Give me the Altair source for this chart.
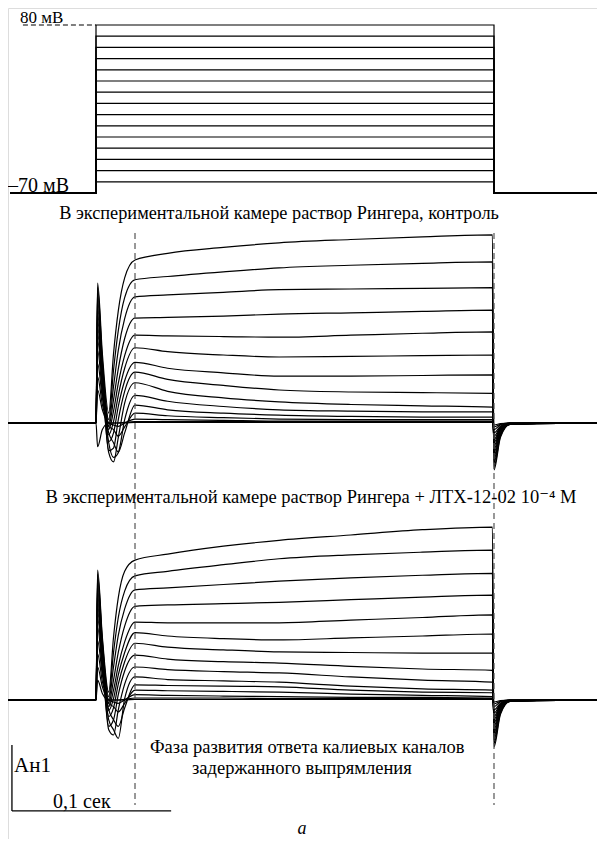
import altair as alt
import pandas as pd

# ---------------- data ----------------
# common time grid of the current records, ms (0 = start of the voltage step)
t_grid = [-56, 0, 1, 4, 8, 11, 14, 18, 24.5, 45, 80, 115, 160, 205, 249, 250, 254, 260, 316]

# voltage protocol
hold_mV = -70
step_mV = [80, 70, 60, 50, 40, 30, 20, 10, 0, -10, -20, -30, -40, -50, -60]
pulse_ms = [0, 250]
record_ms = [-54, 316]

# currents, nA (one row per voltage step, values at t_grid)
control_nA = [
    [0, 0, 2.12, 1.05, 0.15, 1.05, 1.70, 2.20, 2.47, 2.57, 2.66, 2.73, 2.78, 2.82, 2.85, -0.71, -0.22, -0.02, 0],
    [0, 0, 2.05, 0.95, 0.05, 0.80, 1.40, 1.90, 2.17, 2.22, 2.29, 2.35, 2.39, 2.42, 2.44, -0.66, -0.20, -0.02, 0],
    [0, 0, 1.95, 0.90, 0.00, 0.55, 1.10, 1.58, 1.91, 1.94, 1.98, 2.02, 2.03, 2.04, 2.05, -0.60, -0.18, -0.02, 0],
    [0, 0, 1.85, 0.85, -0.05, 0.35, 0.82, 1.28, 1.59, 1.60, 1.62, 1.65, 1.67, 1.69, 1.71, -0.55, -0.16, -0.02, 0],
    [0, 0, 1.75, 0.80, -0.10, 0.18, 0.60, 1.02, 1.33, 1.32, 1.31, 1.30, 1.33, 1.36, 1.38, -0.50, -0.14, -0.01, 0],
    [0, 0, 1.65, 0.75, -0.18, 0.02, 0.42, 0.83, 1.14, 1.08, 1.03, 1.00, 1.01, 1.02, 1.03, -0.45, -0.12, -0.01, 0],
    [0, 0, 1.55, 0.70, -0.28, -0.15, 0.25, 0.64, 0.92, 0.83, 0.76, 0.71, 0.71, 0.72, 0.73, -0.40, -0.10, -0.01, 0],
    [0, 0, 1.45, 0.65, -0.42, -0.38, 0.05, 0.48, 0.77, 0.66, 0.57, 0.50, 0.47, 0.46, 0.45, -0.35, -0.09, -0.01, 0],
    [0, 0, 1.35, 0.60, -0.45, -0.59, -0.22, 0.30, 0.61, 0.48, 0.38, 0.32, 0.28, 0.26, 0.24, -0.30, -0.08, -0.01, 0],
    [0, 0, 1.25, 0.55, -0.30, -0.52, -0.45, 0.05, 0.42, 0.33, 0.25, 0.20, 0.18, 0.17, 0.17, -0.25, -0.07, -0.01, 0],
    [0, 0, 1.10, 0.45, -0.15, -0.30, -0.44, -0.15, 0.27, 0.20, 0.15, 0.12, 0.10, 0.09, 0.09, -0.20, -0.06, 0, 0],
    [0, 0, 0.90, 0.38, -0.05, -0.10, -0.20, -0.06, 0.15, 0.11, 0.08, 0.06, 0.05, 0.05, 0.05, -0.15, -0.05, 0, 0],
    [0, 0, 0.70, 0.28, 0, -0.03, -0.05, 0, 0.06, 0.05, 0.04, 0.03, 0.03, 0.03, 0.03, -0.10, -0.03, 0, 0],
    [0, 0, 0.50, 0.20, 0, 0, 0, 0.01, 0.02, 0.02, 0.02, 0.02, 0.02, 0.02, 0.02, -0.06, -0.02, 0, 0],
    [0, 0, -0.36, -0.10, 0, 0, 0, 0, 0.01, 0.01, 0.01, 0.01, 0.01, 0.01, 0.01, -0.03, -0.01, 0, 0],
]

ltx_nA = [
    [0, 0, 1.97, 0.95, 0.12, 0.95, 1.55, 1.95, 2.12, 2.21, 2.33, 2.42, 2.50, 2.58, 2.62, -0.71, -0.22, -0.02, 0],
    [0, 0, 1.90, 0.90, 0.05, 0.72, 1.25, 1.65, 1.88, 1.95, 2.05, 2.14, 2.20, 2.24, 2.27, -0.66, -0.20, -0.02, 0],
    [0, 0, 1.82, 0.85, 0.00, 0.50, 0.98, 1.38, 1.67, 1.70, 1.75, 1.80, 1.85, 1.89, 1.92, -0.60, -0.18, -0.02, 0],
    [0, 0, 1.74, 0.80, -0.05, 0.30, 0.72, 1.12, 1.42, 1.44, 1.46, 1.48, 1.52, 1.56, 1.59, -0.55, -0.16, -0.02, 0],
    [0, 0, 1.66, 0.75, -0.10, 0.15, 0.52, 0.88, 1.18, 1.17, 1.17, 1.17, 1.21, 1.25, 1.29, -0.50, -0.14, -0.01, 0],
    [0, 0, 1.58, 0.70, -0.16, 0.02, 0.38, 0.72, 1.02, 0.97, 0.93, 0.91, 0.94, 0.97, 1.00, -0.45, -0.12, -0.01, 0],
    [0, 0, 1.50, 0.66, -0.25, -0.12, 0.24, 0.58, 0.86, 0.80, 0.76, 0.73, 0.72, 0.71, 0.71, -0.40, -0.10, -0.01, 0],
    [0, 0, 1.42, 0.62, -0.40, -0.30, 0.08, 0.44, 0.68, 0.62, 0.58, 0.56, 0.51, 0.47, 0.45, -0.35, -0.09, -0.01, 0],
    [0, 0, 1.34, 0.58, -0.45, -0.53, -0.15, 0.24, 0.50, 0.46, 0.43, 0.41, 0.35, 0.30, 0.27, -0.30, -0.08, -0.01, 0],
    [0, 0, 1.24, 0.52, -0.30, -0.45, -0.58, 0.02, 0.35, 0.31, 0.29, 0.27, 0.21, 0.17, 0.15, -0.25, -0.07, -0.01, 0],
    [0, 0, 1.10, 0.45, -0.15, -0.30, -0.40, -0.12, 0.23, 0.22, 0.21, 0.20, 0.15, 0.12, 0.11, -0.20, -0.06, 0, 0],
    [0, 0, 0.90, 0.38, -0.05, -0.10, -0.18, -0.05, 0.15, 0.14, 0.13, 0.12, 0.09, 0.07, 0.05, -0.15, -0.05, 0, 0],
    [0, 0, 0.70, 0.28, 0, -0.03, -0.05, 0, 0.08, 0.07, 0.06, 0.05, 0.04, 0.04, 0.03, -0.10, -0.03, 0, 0],
    [0, 0, 0.50, 0.20, 0, 0, 0, 0.01, 0.03, 0.03, 0.03, 0.02, 0.02, 0.02, 0.02, -0.06, -0.02, 0, 0],
    [0, 0, 0.30, 0.10, 0, 0, 0, 0, 0.01, 0.01, 0.01, 0.01, 0.01, 0.01, 0.01, -0.03, -0.01, 0, 0],
]

phase_ms = [24.5, 250]          # dashed markers of the delayed-rectifier phase
scale_bar_ms = 100
scale_bar_nA = 1
scale_bar_origin = [-52.8, -1.68]  # (ms, nA in the lower record)

labels_text = {
    "v_top": "80 мВ",
    "v_bottom": "\u201370 мВ",
    "title_a": "В экспериментальной камере раствор Рингера, контроль",
    "title_b": "В экспериментальной камере раствор Рингера + ЛТХ-12-02 10\u207b\u2074 М",
    "phase_1": "Фаза развития ответа калиевых каналов",
    "phase_2": "задержанного выпрямления",
    "bar_y": "Ан1",
    "bar_x": "0,1 сек",
    "panel": "a",
}

# ---------------- layout (pixels of the plot area) ----------------
W, H = 589, 831
PX_PER_MS = 1.592
ONSET_PX = 88
x_dom = [(0 - ONSET_PX) / PX_PER_MS, (W - ONSET_PX) / PX_PER_MS]


def ydom(zero_px, value_at_zero, px_per_unit):
    top = value_at_zero + zero_px / px_per_unit
    bottom = value_at_zero - (H - zero_px) / px_per_unit
    return [bottom, top]


X = alt.Scale(domain=x_dom, nice=False, zero=False)
YV = alt.Scale(domain=ydom(185, hold_mV, 1.12), nice=False, zero=False)
YA = alt.Scale(domain=ydom(415, 0, 66), nice=False, zero=False)
YB = alt.Scale(domain=ydom(692, 0, 66), nice=False, zero=False)

FONT = "Liberation Serif, Times New Roman, DejaVu Serif, serif"

# ---------------- tables ----------------
rows = []
for k, v in enumerate(step_mV):
    ts = [record_ms[0], pulse_ms[0], pulse_ms[0], pulse_ms[1], pulse_ms[1], record_ms[1]]
    vs = [hold_mV, hold_mV, v, v, hold_mV, hold_mV]
    for i, (t, val) in enumerate(zip(ts, vs)):
        rows.append({"trace": k, "i": i, "t": t, "v": val})
volt_df = pd.DataFrame(rows)


def trace_df(table):
    r = []
    for k, vals in enumerate(table):
        for i, (t, val) in enumerate(zip(t_grid, vals)):
            r.append({"trace": k, "i": i, "t": t, "I": val})
    return pd.DataFrame(r)


a_df = trace_df(control_nA)
b_df = trace_df(ltx_nA)

# ---------------- voltage panel ----------------
volt_lines = alt.Chart(volt_df).mark_line(color="black", strokeWidth=1.2, clip=True).encode(
    x=alt.X("t:Q", scale=X, axis=None),
    y=alt.Y("v:Q", scale=YV, axis=None),
    detail="trace:N",
    order="i:Q",
)
volt_dash = alt.Chart(pd.DataFrame({"t0": [-45.9], "t1": [pulse_ms[0]], "v": [max(step_mV)]})).mark_rule(
    color="black", strokeWidth=1.2, strokeDash=[5, 3]
).encode(
    x=alt.X("t0:Q", scale=X, axis=None),
    x2="t1:Q",
    y=alt.Y("v:Q", scale=YV, axis=None),
)
volt = alt.layer(volt_lines, volt_dash)

# ---------------- current panels ----------------
a_lines = alt.Chart(a_df).mark_line(
    color="black", strokeWidth=1.2, clip=True, interpolate="monotone"
).encode(
    x=alt.X("t:Q", scale=X, axis=None),
    y=alt.Y("I:Q", scale=YA, axis=None),
    detail="trace:N",
    order="i:Q",
)

b_lines = alt.Chart(b_df).mark_line(
    color="black", strokeWidth=1.2, clip=True, interpolate="monotone"
).encode(
    x=alt.X("t:Q", scale=X, axis=None),
    y=alt.Y("I:Q", scale=YB, axis=None),
    detail="trace:N",
    order="i:Q",
)
phase_rules = alt.Chart(pd.DataFrame({"t": phase_ms})).mark_rule(
    color="#555555", strokeWidth=1.2, strokeDash=[6, 4]
).encode(
    x=alt.X("t:Q", scale=X, axis=None),
    y=alt.value(225),
    y2=alt.value(797),
)
bx0, by0 = scale_bar_origin
bar_h = alt.Chart(pd.DataFrame({"t0": [bx0], "t1": [bx0 + scale_bar_ms], "I": [by0]})).mark_rule(
    color="black", strokeWidth=1.3
).encode(
    x=alt.X("t0:Q", scale=X, axis=None), x2="t1:Q",
    y=alt.Y("I:Q", scale=YB, axis=None),
)
bar_v = alt.Chart(pd.DataFrame({"t": [bx0], "I0": [by0], "I1": [by0 + scale_bar_nA]})).mark_rule(
    color="black", strokeWidth=1.3
).encode(
    x=alt.X("t:Q", scale=X, axis=None),
    y=alt.Y("I0:Q", scale=YB, axis=None), y2="I1:Q",
)
panel_b = alt.layer(b_lines, bar_h, bar_v, phase_rules)

# ---------------- texts ----------------
one = pd.DataFrame({"d": [0]})


def label(key, x, y, align="left", size=18, style="normal"):
    return alt.Chart(one).mark_text(
        text=labels_text[key], font=FONT, fontSize=size, align=align,
        baseline="alphabetic", color="black", fontStyle=style,
    ).encode(x=alt.value(x), y=alt.value(y))


texts = alt.layer(
    label("v_top", 12, 15, size=17),
    label("v_bottom", 0, 184, size=20),
    label("title_a", 271, 211, size=18.3, align="center"),
    label("title_b", 303, 495, size=18.5, align="center"),
    label("phase_1", 142, 745, size=18.5),
    label("phase_2", 184, 766, size=18.5),
    label("bar_y", 6, 764, size=21),
    label("bar_x", 45, 800, size=20),
    label("panel", 294, 826, size=18, align="center", style="italic"),
)

chart = alt.layer(volt, a_lines, panel_b, texts).resolve_scale(y="independent").properties(
    width=W, height=H, padding=0, autosize="none",
).configure_view(stroke=None).configure(background="white")

chart.save("out.html", embed_options={"renderer": "svg", "actions": False})
